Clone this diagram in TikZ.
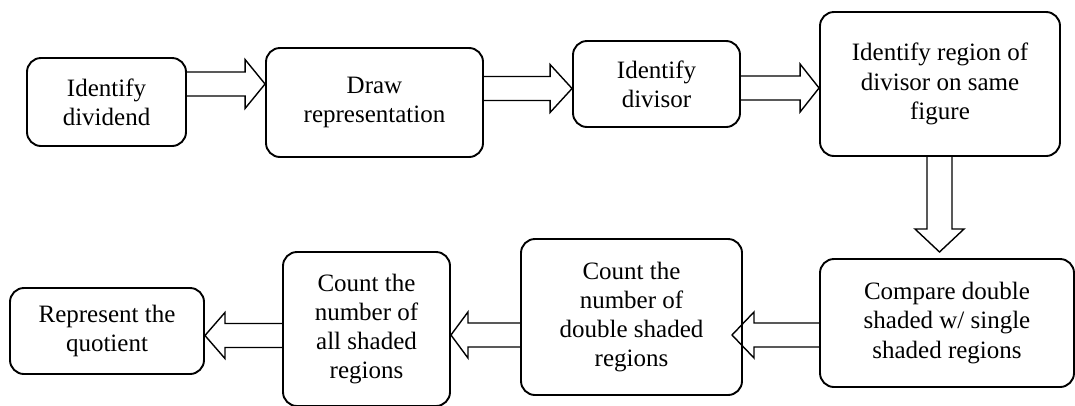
\documentclass[tikz,border=0pt]{standalone}
\usepackage{fontspec}
\setmainfont{Liberation Serif}
\usetikzlibrary{calc}
\newcommand{\harr}[6]{%
  \draw[blk] let \p1=(#1), \p2=(#2) in
    (\x1,{#3-#4}) -- ({\x2-(#6)*1pt},{#3-#4}) -- ({\x2-(#6)*1pt},{#3-#5})
    -- (\x2,#3) -- ({\x2-(#6)*1pt},{#3+#5}) -- ({\x2-(#6)*1pt},{#3+#4}) -- (\x1,{#3+#4});}
\begin{document}
\begin{tikzpicture}[x=1pt,y=-1pt,
  box/.style={draw, line width=1.9pt, rounded corners=14pt, align=center, inner sep=0pt,
    font=\fontsize{25}{29.3}\selectfont},
  blk/.style={draw, line width=1.4pt, line join=miter}]
\useasboundingbox (0,0) rectangle (1075,405);
\begin{scope}
\clip (0,0) rectangle (1075,405);
\node[box, minimum width=159pt, minimum height=88pt] (b1) at (106.5,102) {Identify\\dividend};
\node[box, minimum width=217pt, minimum height=109pt] (b2) at (374.5,102.5) {Draw\\representation};
\node[box, minimum width=167pt, minimum height=86pt] (b3) at (656.5,84) {Identify\\divisor};
\node[box, minimum width=240pt, minimum height=144pt] (b4) at (940,84) {Identify region of\\divisor on same\\figure};
\node[box, minimum width=254pt, minimum height=128pt] (b5) at (947,323) {Compare double\\shaded w/ single\\shaded regions};
\node[box, minimum width=221pt, minimum height=156pt] (b6) at (631.5,317) {Count the\\number of\\double shaded\\regions};
\node[box, minimum width=167pt, minimum height=154pt] (b7) at (366.5,329) {Count the\\number of\\all shaded\\regions};
\node[box, minimum width=194pt, minimum height=86pt] (b8) at (107,331) {Represent the\\quotient};
\coordinate (t4) at (939.5,252);
\coordinate (t5) at (732,335);
\harr{b1.east}{b2.west}{84}{12}{24.5}{20}
\harr{b2.east}{b3.west}{88.5}{12}{24}{22}
\harr{b3.east}{b4.west}{88}{12}{24}{19}
\harr{b5.west}{t5}{335}{12}{23}{-22}
\harr{b6.west}{b7.east}{335}{12}{23}{-17}
\harr{b7.west}{b8.east}{335.5}{12}{23}{-20}
\draw[blk] let \p1=(b4.south), \p2=(t4) in
  (927,\y1) -- (927,{\y2+23pt}) -- (915,{\y2+23pt}) -- (\x2,\y2)
  -- (964,{\y2+23pt}) -- (952,{\y2+23pt}) -- (952,\y1);
\end{scope}
\end{tikzpicture}
\end{document}
